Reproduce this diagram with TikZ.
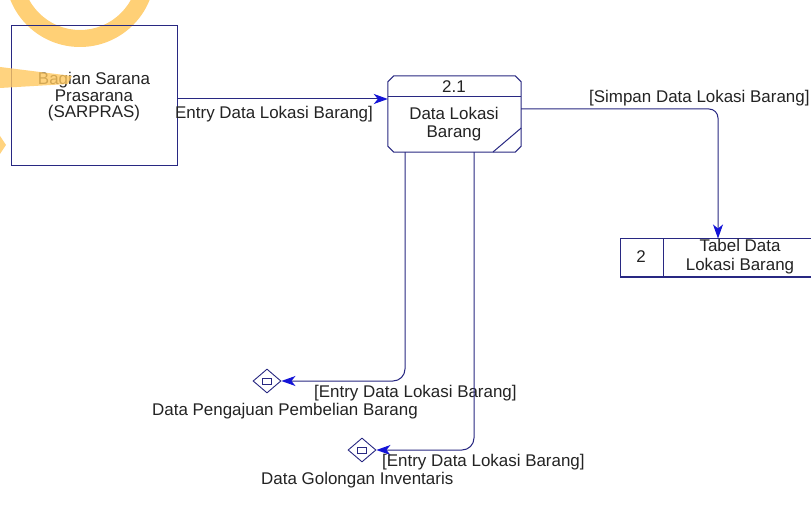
\documentclass[tikz,border=0pt]{standalone}
\usepackage{fontspec}
\setmainfont{Liberation Sans}
\usetikzlibrary{shapes.geometric,arrows.meta}
\definecolor{ln}{RGB}{40,40,130}
\definecolor{tipc}{RGB}{20,20,215}
\definecolor{wm}{RGB}{255,200,95}
\definecolor{tx}{RGB}{35,35,35}
\begin{document}
\begin{tikzpicture}[x=1bp,y=-1bp,
  every node/.style={font=\fontsize{17}{16.5}\selectfont, text=tx},
  ent/.style={draw=ln, line width=1bp, minimum width=165bp, minimum height=140bp, inner sep=0pt},
  proc/.style={draw=none, rectangle, minimum width=133bp, minimum height=76bp, inner sep=0pt},
  store/.style={draw=ln, line width=1bp, rectangle, minimum width=240bp, minimum height=38bp, inner sep=0pt},
  ext/.style={draw=ln, line width=0.9bp, diamond, minimum width=28bp, minimum height=24bp, inner sep=0pt},
  flow/.style={draw=ln, line width=1bp, -{Stealth[length=14bp,width=10bp,inset=4bp,color=tipc]}},
  lbl/.style={anchor=west, inner sep=0pt},
  txt/.style={align=center, inner sep=0pt}
]
\useasboundingbox (0,0) rectangle (811,520);
\clip (0,0) rectangle (811,520);
\fill[white] (0,0) rectangle (811,520);

% watermark ring (behind)
\begin{scope}[opacity=0.85]
\fill[wm, even odd rule] (80,-28) circle[radius=75bp] (80,-28) circle[radius=58bp];
\end{scope}

% entity
\node[ent] (sar) at (94.5,96) {};
\node[txt, font=\fontsize{17}{16.5}\selectfont] (sart) at (94,97) {Bagian Sarana\\Prasarana\\(SARPRAS)};

% process
\node[proc] (p) at (454.5,114) {};
\draw[ln, line width=1bp] ([xshift=6bp]p.north west) -- ([xshift=-6bp]p.north east)
  -- ([yshift=-6bp]p.north east) -- ([yshift=6bp]p.south east)
  -- ([xshift=-6bp]p.south east) -- ([xshift=6bp]p.south west)
  -- ([yshift=6bp]p.south west) -- ([yshift=-6bp]p.north west) -- cycle;
\draw[ln, line width=1bp] (p.west |- 0,97) -- (p.east |- 0,97);
\draw[ln, line width=1bp] (p.east |- 0,128) -- (493,152);
\node[txt] (pid) at (454,87) {2.1};
\node[txt, font=\fontsize{17}{18}\selectfont] (pname) at (454,124) {Data Lokasi\\Barang};

% data store
\node[store] (st) at (740,258) {};
\draw[ln, line width=1bp] (663,239) -- (663,277);
\node[txt] (stid) at (641,257) {2};
\node[txt, font=\fontsize{17}{19}\selectfont] (stname) at (740,257) {Tabel Data\\Lokasi Barang};

% external stubs
\node[ext] (d1) at (267,381) {};
\node[draw=ln, line width=0.8bp, minimum width=9bp, minimum height=6bp, inner sep=0pt] (d1r) at (d1) {};
\node[ext] (d2) at (362,450) {};
\node[draw=ln, line width=0.8bp, minimum width=9bp, minimum height=6bp, inner sep=0pt] (d2r) at (d2) {};

% flows
\draw[flow] ([yshift=-3bp]sar.east) -- ([yshift=-3bp]sar.east -| p.west);
\node[lbl] (l1) at (175,114) {Entry Data Lokasi Barang]};

\draw[flow, rounded corners=9bp] ([yshift=5bp]p.east) -| ([xshift=-22bp]st.north);
\node[lbl] (l2) at (589,98) {[Simpan Data Lokasi Barang]};

\draw[flow, rounded corners=12bp] ([xshift=-49.5bp]p.south) |- (d1.east);
\node[lbl] (l3) at (314,393) {[Entry Data Lokasi Barang]};
\node[lbl] (n1) at (152,411) {Data Pengajuan Pembelian Barang};

\draw[flow, rounded corners=12bp] ([xshift=19.5bp]p.south) |- (d2.east);
\node[lbl] (l4) at (382,462) {[Entry Data Lokasi Barang]};
\node[lbl] (n2) at (261,480) {Data Golongan Inventaris};

% watermark streaks (over)
\begin{scope}[opacity=0.8]
\fill[wm] (0,67) -- (72,76) -- (68,84) -- (0,88) -- cycle;
\fill[wm] (0,136) -- (6,145) -- (0,154) -- cycle;
\end{scope}
\end{tikzpicture}
\end{document}
